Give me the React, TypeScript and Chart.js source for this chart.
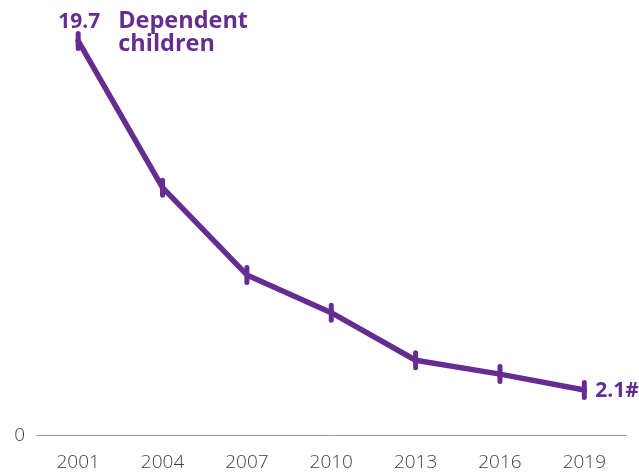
import React, { useEffect, useRef } from "react";
import { Chart, registerables } from "chart.js";

Chart.register(...registerables);

const years = ["2001", "2004", "2007", "2010", "2013", "2016", "2019"];
const dependentChildren = [19.7, 12.3, 7.9, 6.0, 3.6, 2.9, 2.1];
const seriesName = ["Dependent", "children"];
const firstLabel = "19.7";
const lastLabel = "2.1#";
const zeroLabel = "0";

const PURPLE = "#662d91";

const labelPlugin = {
  id: "labels",
  beforeDatasetDraw(chart: any) {
    chart.ctx.lineCap = "round";
  },
  afterDatasetDraw(chart: any) {
    chart.ctx.lineCap = "butt";
  },
  afterDraw(chart: any) {
    const ctx = chart.ctx;
    const x = chart.scales.x;
    const y = chart.scales.y;
    const area = chart.chartArea;
    ctx.save();
    // zero label
    ctx.fillStyle = "#404040";
    ctx.font = "300 19px 'Open Sans'";
    ctx.textAlign = "right";
    ctx.textBaseline = "middle";
    ctx.fillText(zeroLabel, area.left - 11, area.bottom);

    ctx.fillStyle = PURPLE;
    ctx.font = "bold 21px 'Open Sans'";
    const x0 = x.getPixelForValue(0);
    const y0 = y.getPixelForValue(dependentChildren[0]);
    ctx.textAlign = "right";
    ctx.textBaseline = "alphabetic";
    ctx.fillText(firstLabel, x0 + 22, y0 - 13);
    ctx.textAlign = "left";
    ctx.font = "bold 23.5px 'Open Sans'";
    ctx.fillText(seriesName[0], x0 + 40, y0 - 13);
    ctx.fillText(seriesName[1], x0 + 40, y0 + 10);

    ctx.font = "bold 21px 'Open Sans'";
    const n = dependentChildren.length - 1;
    const xn = x.getPixelForValue(n);
    const yn = y.getPixelForValue(dependentChildren[n]);
    ctx.textAlign = "left";
    ctx.textBaseline = "middle";
    ctx.fillText(lastLabel, xn + 11, yn + 1);
    ctx.restore();
  },
};

export default function App() {
  const ref = useRef<HTMLCanvasElement | null>(null);
  useEffect(() => {
    if (!ref.current) return;
    const chart = new Chart(ref.current, {
      type: "line",
      data: {
        labels: years,
        datasets: [
          {
            data: dependentChildren,
            borderColor: PURPLE,
            backgroundColor: PURPLE,
            borderWidth: 5.5,
            borderCapStyle: "round",
            borderJoinStyle: "round",
            pointStyle: "line",
            pointRotation: 90,
            pointRadius: 7.5,
            pointBorderWidth: 5,
            pointBorderColor: PURPLE,
            tension: 0,
            clip: false as any,
          },
        ],
      },
      options: {
        animation: false,
        responsive: true,
        maintainAspectRatio: false,
        layout: { padding: { left: 36, right: 12, top: 35, bottom: -18 } },
        plugins: { legend: { display: false }, tooltip: { enabled: false } },
        scales: {
          x: {
            offset: true,
            grid: { display: false, drawTicks: false },
            border: { display: true, color: "#9a9a9a", width: 1 },
            ticks: {
              color: "#404040",
              font: { family: "'Open Sans'", size: 19, weight: 300 as any },
              padding: 16,
              maxRotation: 0,
            },
          },
          y: {
            display: false,
            min: -0.18,
            max: 20,
          },
        },
      },
      plugins: [labelPlugin],
    });
    return () => chart.destroy();
  }, []);
  return (
    <div style={{ position: "absolute", left: 0, top: 0, width: 639, height: 472 }}>
      <canvas ref={ref} />
    </div>
  );
}
